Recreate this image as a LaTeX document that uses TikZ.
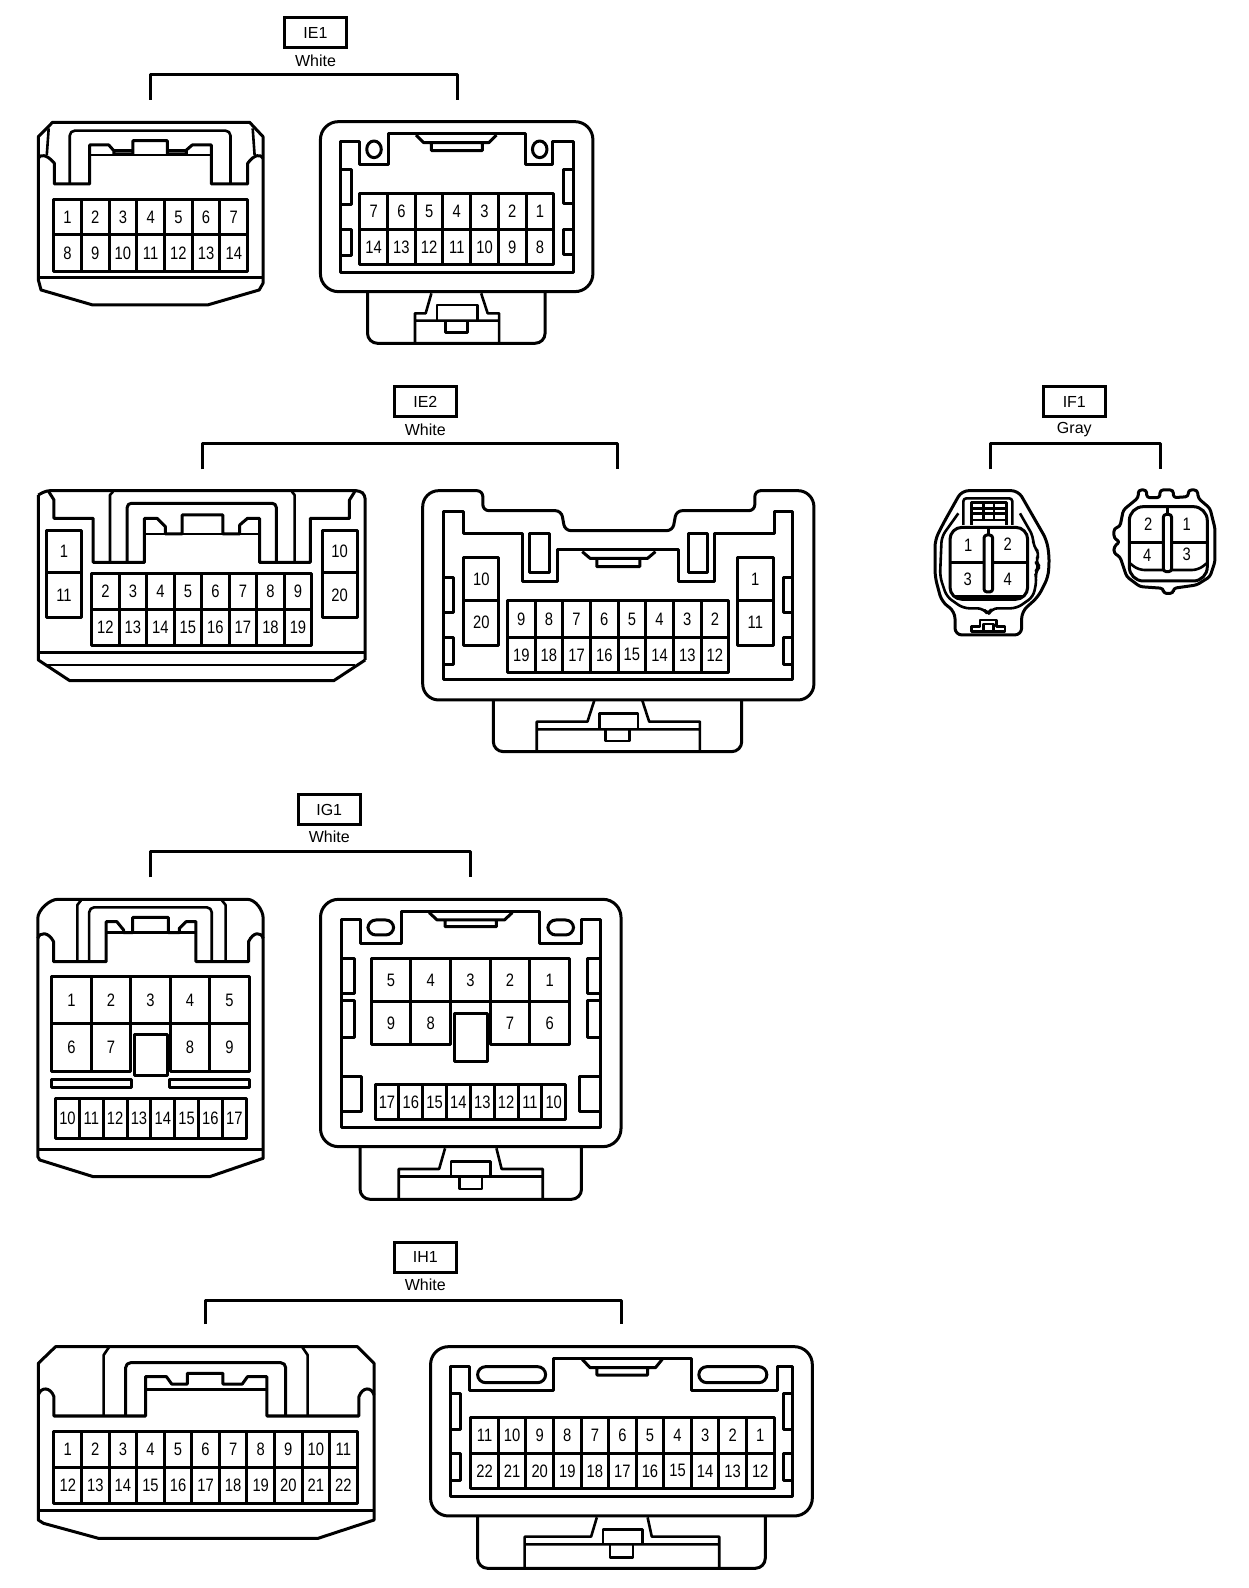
\documentclass[tikz,border=0pt]{standalone}
\usepackage{fontspec}
\setmainfont{Liberation Sans}
\newfontfamily\pinfont[FakeStretch=0.82]{Liberation Sans}
\tikzset{
    wire/.style={line width=3pt, line join=round},
    thinwire/.style={line width=2.6pt, line join=round},
    tagbox/.style={draw, line width=3pt, minimum width=62pt, minimum height=30pt, inner sep=0pt, font=\fontsize{16}{16}\selectfont},
    colorname/.style={inner sep=0pt, font=\fontsize{16}{16}\selectfont},
    pinlabel/.style={inner sep=0pt, font=\pinfont\fontsize{18}{18}\selectfont},
    view/.style n args={3}{shift={(#1pt,#2pt)}, x=#3pt, y=-0.3333pt},
}
% one row of cells, the labels are named after the row
\newcommand{\pinrow}[6]{
    \foreach \n [count=\i from 0] in {#6} {
        \draw[wire] ({#2+\i*#4},#3) rectangle ++(#4,#5);
        \node[pinlabel] (#1\n) at ({#2+(\i+0.5)*#4},{#3+0.5*#5}) {\n};
    }
}
% bracket below a connector tag
\newcommand{\harness}[5]{
    \coordinate (#1l) at (#2,#5);
    \coordinate (#1r) at (#3,#5);
    \draw[wire] (#1l) -- (#2,#4) -- (#3,#4) -- (#1r);
}
\begin{document}
\begin{tikzpicture}
    \useasboundingbox[fill=white] (0,0) rectangle (1248pt,-1588pt);

    % IE1
    \begin{scope}[view={20}{0}{0.3827}]
        \node[tagbox] (tagIE1) at (772,98) {IE1};
        \node[colorname] (colIE1) at (772,181) {White};
        \harness{ie1}{342}{1142}{225}{300}
        % left half
        \draw[wire] (48,840) -- (48,410) -- (85,367) -- (600,367) -- (635,410) -- (635,850) -- (625,870) -- (490,915) -- (190,915) -- (55,870) -- cycle;
        \draw[wire] (48,475) .. controls (52,462) and (70,462) .. (90,490) -- (90,552) -- (182,552) -- (182,435) -- (232,435) -- (245,452) -- (245,462) -- (295,462) -- (295,422) -- (385,422) -- (385,462) -- (435,462) -- (435,450) -- (450,435) -- (500,435) -- (500,552) -- (595,552) -- (595,490) .. controls (612,462) and (630,462) .. (635,475);
        \draw[thinwire] (182,465) -- (500,465) (245,452) -- (295,452) (385,452) -- (435,452);
        \draw[thinwire,rounded corners=5pt] (130,552) -- (130,392) -- (550,392) -- (550,552);
        \draw[thinwire] (75,385) -- (70,465) (608,385) -- (613,465);
        \draw[thinwire] (48,832) -- (635,832);
        \pinrow{ie1a}{88}{598}{72.4}{107}{1,2,3,4,5,6,7}
        \pinrow{ie1a}{88}{705}{72.4}{110}{8,9,10,11,12,13,14}
        % right half
        \draw[wire,rounded corners=18pt] (785,365) rectangle (1497,875);
        \draw[wire] (838,425) -- (888,425) -- (888,495) -- (962,495) -- (962,402) -- (1322,402) -- (1322,495) -- (1392,495) -- (1392,425) -- (1447,425) -- (1447,818) -- (838,818) -- cycle;
        \draw[wire] (1035,405) -- (1055,428) -- (1225,428) -- (1245,405) (1075,428) -- (1075,452) -- (1208,452) -- (1208,428);
        \draw[wire] (925,448) ellipse (19 and 25) (1358,448) ellipse (19 and 25);
        \draw[wire] (838,508) -- (865,508) -- (865,615) -- (838,615) (838,688) -- (865,688) -- (865,768) -- (838,768);
        \draw[wire] (1447,508) -- (1420,508) -- (1420,612) -- (1447,612) (1447,688) -- (1420,688) -- (1420,765) -- (1447,765);
        \pinrow{ie1b}{888}{580}{72.4}{108}{7,6,5,4,3,2,1}
        \pinrow{ie1b}{888}{688}{72.4}{107}{14,13,12,11,10,9,8}
        \draw[wire,rounded corners=10pt] (908,878) -- (908,1030) -- (1372,1030) -- (1372,878);
        \draw[thinwire] (1075,880) -- (1060,940) -- (1032,940) -- (1032,1027) (1205,880) -- (1222,940) -- (1252,940) -- (1252,1027) (1032,962) -- (1252,962);
        \draw[thinwire] (1090,962) -- (1090,915) -- (1195,915) -- (1195,962) (1112,962) -- (1112,998) -- (1170,998) -- (1170,962);
    \end{scope}

    % IE2
    \begin{scope}[view={20}{-380}{0.523}]
        \node[tagbox] (tagIE2) at (775,65) {IE2};
        \node[colorname] (colIE2) at (775,148) {White};
        \harness{ie2}{348}{1143}{190}{268}
        % left half
        \draw[wire,rounded corners=4pt] (35,345) -- (50,332) -- (650,332) -- (660,345) -- (660,840);
        \draw[wire] (660,840) -- (600,902) -- (95,902) -- (35,840) -- (35,345);
        \draw[wire] (35,818) -- (660,818);
        \draw[thinwire] (50,855) -- (640,855);
        \draw[wire] (55,335) -- (65,360) -- (65,415) -- (140,415) -- (140,547) -- (238,547) -- (238,415) -- (262,415) -- (278,440) -- (278,462) -- (310,462) -- (310,405) -- (388,405) -- (388,462) -- (420,462) -- (420,435) -- (435,415) -- (458,415) -- (458,547) -- (555,547) -- (555,415) -- (630,415) -- (630,360) -- (640,335);
        \draw[thinwire] (238,462) -- (458,462);
        \draw[thinwire] (172,547) -- (172,345) -- (178,335) (520,335) -- (525,345) -- (525,547);
        \draw[wire,rounded corners=4pt] (205,547) -- (205,370) -- (490,370) -- (490,547);
        \draw[wire] (50,452) rectangle (118,712) (50,578) -- (118,578);
        \node[pinlabel] (ie2a1) at (84,515) {1};
        \node[pinlabel] (ie2a11) at (84,645) {11};
        \draw[wire] (578,452) rectangle (645,712) (578,578) -- (645,578);
        \node[pinlabel] (ie2a10) at (611,515) {10};
        \node[pinlabel] (ie2a20) at (611,645) {20};
        \pinrow{ie2a}{137}{580}{52.6}{108}{2,3,4,5,6,7,8,9}
        \pinrow{ie2a}{137}{688}{52.6}{109}{12,13,14,15,16,17,18,19}
        % right half
        \draw[wire,rounded corners=6pt] (830,332) -- (885,332) -- (885,392) -- (1035,392) -- (1042,452) -- (1248,452) -- (1255,392) -- (1405,392) -- (1405,332) [rounded corners=16pt] -- (1518,332) -- (1518,960) -- (770,960) -- (770,332) -- cycle;
        \draw[wire] (810,395) -- (848,395) -- (848,462) -- (960,462) -- (960,605) -- (1028,605) -- (1028,510) -- (1260,510) -- (1260,605) -- (1328,605) -- (1328,462) -- (1442,462) -- (1442,395) -- (1478,395) -- (1478,900) -- (810,900) -- cycle;
        \draw[wire] (975,462) rectangle (1012,578) (1278,462) rectangle (1315,578);
        \draw[wire] (1075,515) -- (1090,535) -- (1200,535) -- (1215,515) (1103,535) -- (1103,560) -- (1185,560) -- (1185,535);
        \draw[wire] (848,533) rectangle (915,797) (848,663) -- (915,663);
        \node[pinlabel] (ie2b10) at (882,597) {10};
        \node[pinlabel] (ie2b20) at (882,727) {20};
        \draw[wire] (1372,533) rectangle (1440,797) (1372,663) -- (1440,663);
        \node[pinlabel] (ie2b1) at (1406,597) {1};
        \node[pinlabel] (ie2b11) at (1406,727) {11};
        \pinrow{ie2b}{932}{663}{52.9}{109}{9,8,7,6,5,4,3,2}
        \pinrow{ie2b}{932}{772}{52.9}{105}{19,18,17,16,15,14,13,12}
        \draw[wire] (810,592) -- (828,592) -- (828,698) -- (810,698) (810,772) -- (828,772) -- (828,855) -- (810,855);
        \draw[wire] (1478,592) -- (1460,592) -- (1460,698) -- (1478,698) (1478,772) -- (1460,772) -- (1460,855) -- (1478,855);
        \draw[wire,rounded corners=10pt] (905,962) -- (905,1115) -- (1380,1115) -- (1380,962);
        \draw[thinwire] (1098,962) -- (1085,1025) -- (988,1025) -- (988,1112) (1190,962) -- (1203,1025) -- (1300,1025) -- (1300,1112) (988,1048) -- (1300,1048);
        \draw[thinwire] (1108,1048) -- (1108,1000) -- (1182,1000) -- (1182,1048) (1120,1048) -- (1120,1083) -- (1165,1083) -- (1165,1048);
    \end{scope}

    % IF1
    \begin{scope}[view={920}{-380}{0.3333}]
        \node[tagbox] (tagIF1) at (463,65) {IF1};
        \node[colorname] (colIF1) at (463,148) {Gray};
        \harness{if1}{212}{723}{190}{268}
        % left half
        \draw[wire,rounded corners=7pt] (105,695) -- (65,665) -- (45,590) -- (45,480) -- (70,430) -- (125,332) -- (295,332) -- (380,480) -- (388,530) -- (385,590) -- (355,650) -- (305,695) -- (305,765) -- (105,765) -- cycle;
        \draw[thinwire,rounded corners=6pt] (115,400) -- (65,470) -- (60,590) -- (80,650) -- (130,685) -- (190,685) -- (205,705) -- (215,685) -- (290,685) -- (340,650) -- (350,600) -- (345,575) -- (360,560) -- (345,545) -- (360,520) -- (340,500) -- (340,470) -- (300,400);
        \draw[wire,rounded corners=12pt] (90,442) rectangle (323,658);
        \draw[thinwire] (90,548) -- (322,548) (105,650) -- (310,650);
        \draw[wire,rounded corners=3pt,fill=white] (192,465) rectangle (218,636);
        \draw[thinwire] (205,442) -- (205,465);
        \draw[thinwire,rounded corners=3pt] (130,435) -- (130,355) -- (277,355) -- (277,435);
        \draw[thinwire] (155,435) -- (155,368) -- (260,368) -- (260,435) (155,385) -- (260,385) (155,400) -- (260,400) (190,368) -- (190,420) (222,368) -- (222,420) (155,420) -- (260,420);
        \draw[thinwire] (155,755) -- (155,740) -- (180,740) -- (180,720) -- (230,720) -- (230,740) -- (255,740) -- (255,755) -- cycle (190,732) rectangle (220,755);
        \node[pinlabel] (if1a1) at (145,495) {1};
        \node[pinlabel] (if1a2) at (263,493) {2};
        \node[pinlabel] (if1a3) at (143,597) {3};
        \node[pinlabel] (if1a4) at (263,597) {4};
        % right half
        \draw[wire,rounded corners=3pt] (655,353) -- (655,330) -- (680,330) -- (680,353) -- (720,353) -- (720,330) -- (760,330) -- (760,353) -- (805,350) -- (805,330) -- (832,330) -- (835,355) -- (870,385) -- (885,445) -- (885,545) -- (870,590) -- (830,615) -- (760,625) -- (760,640) -- (730,640) -- (730,625) -- (660,620) -- (620,590) -- (600,530) -- (582,520) -- (582,500) -- (600,485) -- (582,475) -- (582,445) -- (600,440) -- (610,390) -- cycle;
        \draw[wire,rounded corners=14pt] (628,380) rectangle (862,603);
        \draw[thinwire] (628,487) -- (862,487) (742,380) -- (742,403);
        \draw[thinwire,rounded corners=6pt] (630,550) -- (655,570) -- (835,570) -- (860,550);
        \draw[wire,rounded corners=3pt,fill=white] (730,403) rectangle (755,575);
        \node[pinlabel] (if1b2) at (685,433) {2};
        \node[pinlabel] (if1b1) at (800,433) {1};
        \node[pinlabel] (if1b4) at (682,525) {4};
        \node[pinlabel] (if1b3) at (800,523) {3};
    \end{scope}

    % IG1
    \begin{scope}[view={20}{-790}{0.3954}]
        \node[tagbox] (tagIG1) at (782,59) {IG1};
        \node[colorname] (colIG1) at (782,140) {White};
        \harness{ig1}{330}{1140}{185}{262}
        % left half
        \draw[wire] (45,1100) -- (45,385) .. controls (45,360) and (75,328) .. (95,328) -- (575,328) .. controls (595,328) and (615,360) .. (615,385) -- (615,1105) -- (480,1160) -- (185,1160) -- (50,1110) -- cycle;
        \draw[wire] (45,445) .. controls (50,425) and (72,425) .. (85,455) -- (85,515) -- (218,515) -- (218,395) -- (245,395) -- (262,420) -- (262,428) -- (285,428) -- (285,382) -- (375,382) -- (375,428) -- (403,428) -- (403,415) -- (420,395) -- (445,395) -- (445,515) -- (578,515) -- (578,455) .. controls (590,425) and (610,425) .. (615,445);
        \draw[thinwire] (218,428) -- (445,428);
        \draw[thinwire] (145,515) -- (145,345) -- (155,330) (510,330) -- (520,345) -- (520,515);
        \draw[thinwire,rounded corners=5pt] (175,515) -- (175,352) -- (485,352) -- (485,515);
        \pinrow{ig1a}{80}{560}{100}{140}{1,2,3,4,5}
        \pinrow{ig1a}{80}{700}{100}{145}{6,7}
        \pinrow{ig1a}{380}{700}{100}{145}{8,9}
        \draw[wire,fill=white] (290,735) rectangle (372,858);
        \draw[wire] (80,868) rectangle (283,892) (378,868) rectangle (580,892);
        \pinrow{ig1a}{90}{925}{60.25}{120}{10,11,12,13,14,15,16,17}
        \draw[wire] (45,1080) -- (615,1080);
        % right half
        \draw[wire,rounded corners=18pt] (760,328) rectangle (1520,1070);
        \draw[wire] (812,390) -- (860,390) -- (860,460) -- (965,460) -- (965,365) -- (1315,365) -- (1315,460) -- (1420,460) -- (1420,390) -- (1468,390) -- (1468,1012) -- (812,1012) -- cycle;
        \draw[wire] (1035,368) -- (1055,390) -- (1225,390) -- (1245,368) (1075,390) -- (1075,410) -- (1205,410) -- (1205,390);
        \draw[wire,rounded corners=8pt] (880,390) rectangle (945,435) (1335,390) rectangle (1400,435);
        \draw[wire] (815,505) -- (847,505) -- (847,610) -- (815,610) (815,632) -- (847,632) -- (847,742) -- (815,742) (815,860) -- (863,860) -- (863,965) -- (815,965);
        \draw[wire] (1465,505) -- (1435,505) -- (1435,610) -- (1465,610) (1465,632) -- (1435,632) -- (1435,742) -- (1465,742) (1465,860) -- (1415,860) -- (1415,965) -- (1465,965);
        \pinrow{ig1b}{888}{505}{100.4}{130}{5,4,3,2,1}
        \pinrow{ig1b}{888}{635}{100.4}{130}{9,8}
        \pinrow{ig1b}{1189}{635}{100.4}{130}{7,6}
        \draw[wire,fill=white] (1098,670) rectangle (1182,815);
        \pinrow{ig1b}{898}{885}{60.25}{103}{17,16,15,14,13,12,11,10}
        \draw[wire,rounded corners=10pt] (860,1072) -- (860,1228) -- (1420,1228) -- (1420,1072);
        \draw[thinwire] (1075,1075) -- (1060,1137) -- (958,1137) -- (958,1225) (1205,1075) -- (1218,1137) -- (1322,1137) -- (1322,1225);
        \draw[wire] (958,1160) -- (1322,1160);
        \draw[thinwire] (1090,1160) -- (1090,1115) -- (1190,1115) -- (1190,1160) (1112,1160) -- (1112,1197) -- (1168,1197) -- (1168,1160);
    \end{scope}

    % IH1
    \begin{scope}[view={20}{-1240}{0.523}]
        \node[tagbox] (tagIH1) at (775,52) {IH1};
        \node[colorname] (colIH1) at (775,135) {White};
        \harness{ih1}{355}{1150}{180}{252}
        % left half
        \draw[wire] (35,840) -- (35,370) -- (68,320) -- (645,320) -- (677,370) -- (677,840) -- (570,895) -- (150,895) -- (45,850) -- cycle;
        \draw[wire] (35,465) .. controls (40,440) and (58,440) .. (65,470) -- (65,528) -- (240,528) -- (240,410) -- (280,410) -- (290,432) -- (320,432) -- (320,400) -- (388,400) -- (388,432) -- (425,432) -- (435,410) -- (472,410) -- (472,528) -- (648,528) -- (648,470) .. controls (655,440) and (672,440) .. (677,465);
        \draw[thinwire] (240,448) -- (472,448);
        \draw[thinwire] (160,528) -- (160,345) -- (170,322) (550,528) -- (550,345) -- (540,322);
        \draw[wire,rounded corners=5pt] (202,528) -- (202,368) -- (508,368) -- (508,528);
        \pinrow{ih1a}{65}{575}{52.7}{108}{1,2,3,4,5,6,7,8,9,10,11}
        \pinrow{ih1a}{65}{683}{52.7}{107}{12,13,14,15,16,17,18,19,20,21,22}
        \draw[wire] (35,812) -- (677,812);
        % right half
        \draw[wire,rounded corners=18pt] (785,320) rectangle (1515,828);
        \draw[wire] (823,380) -- (860,380) -- (860,450) -- (1020,450) -- (1020,355) -- (1283,355) -- (1283,450) -- (1448,450) -- (1448,380) -- (1478,380) -- (1478,770) -- (823,770) -- cycle;
        \draw[wire] (1075,358) -- (1090,383) -- (1215,383) -- (1228,358) (1103,383) -- (1103,405) -- (1200,405) -- (1200,383);
        \draw[wire,rounded corners=8pt] (875,380) rectangle (1005,428) (1298,380) rectangle (1428,428);
        \draw[wire] (826,460) -- (842,460) -- (842,568) -- (826,568) (826,640) -- (842,640) -- (842,722) -- (826,722);
        \draw[wire] (1478,460) -- (1460,460) -- (1460,568) -- (1478,568) (1478,640) -- (1460,640) -- (1460,722) -- (1478,722);
        \pinrow{ih1b}{862}{533}{52.7}{107}{11,10,9,8,7,6,5,4,3,2,1}
        \pinrow{ih1b}{862}{640}{52.7}{105}{22,21,20,19,18,17,16,15,14,13,12}
        \draw[wire,rounded corners=10pt] (875,830) -- (875,985) -- (1425,985) -- (1425,830);
        \draw[thinwire] (1103,832) -- (1092,890) -- (965,890) -- (965,982) (1200,832) -- (1208,890) -- (1337,890) -- (1337,982) (965,913) -- (1337,913);
        \draw[thinwire] (1115,913) -- (1115,868) -- (1190,868) -- (1190,913) (1128,913) -- (1128,953) -- (1172,953) -- (1172,913);
    \end{scope}
\end{tikzpicture}
\end{document}
